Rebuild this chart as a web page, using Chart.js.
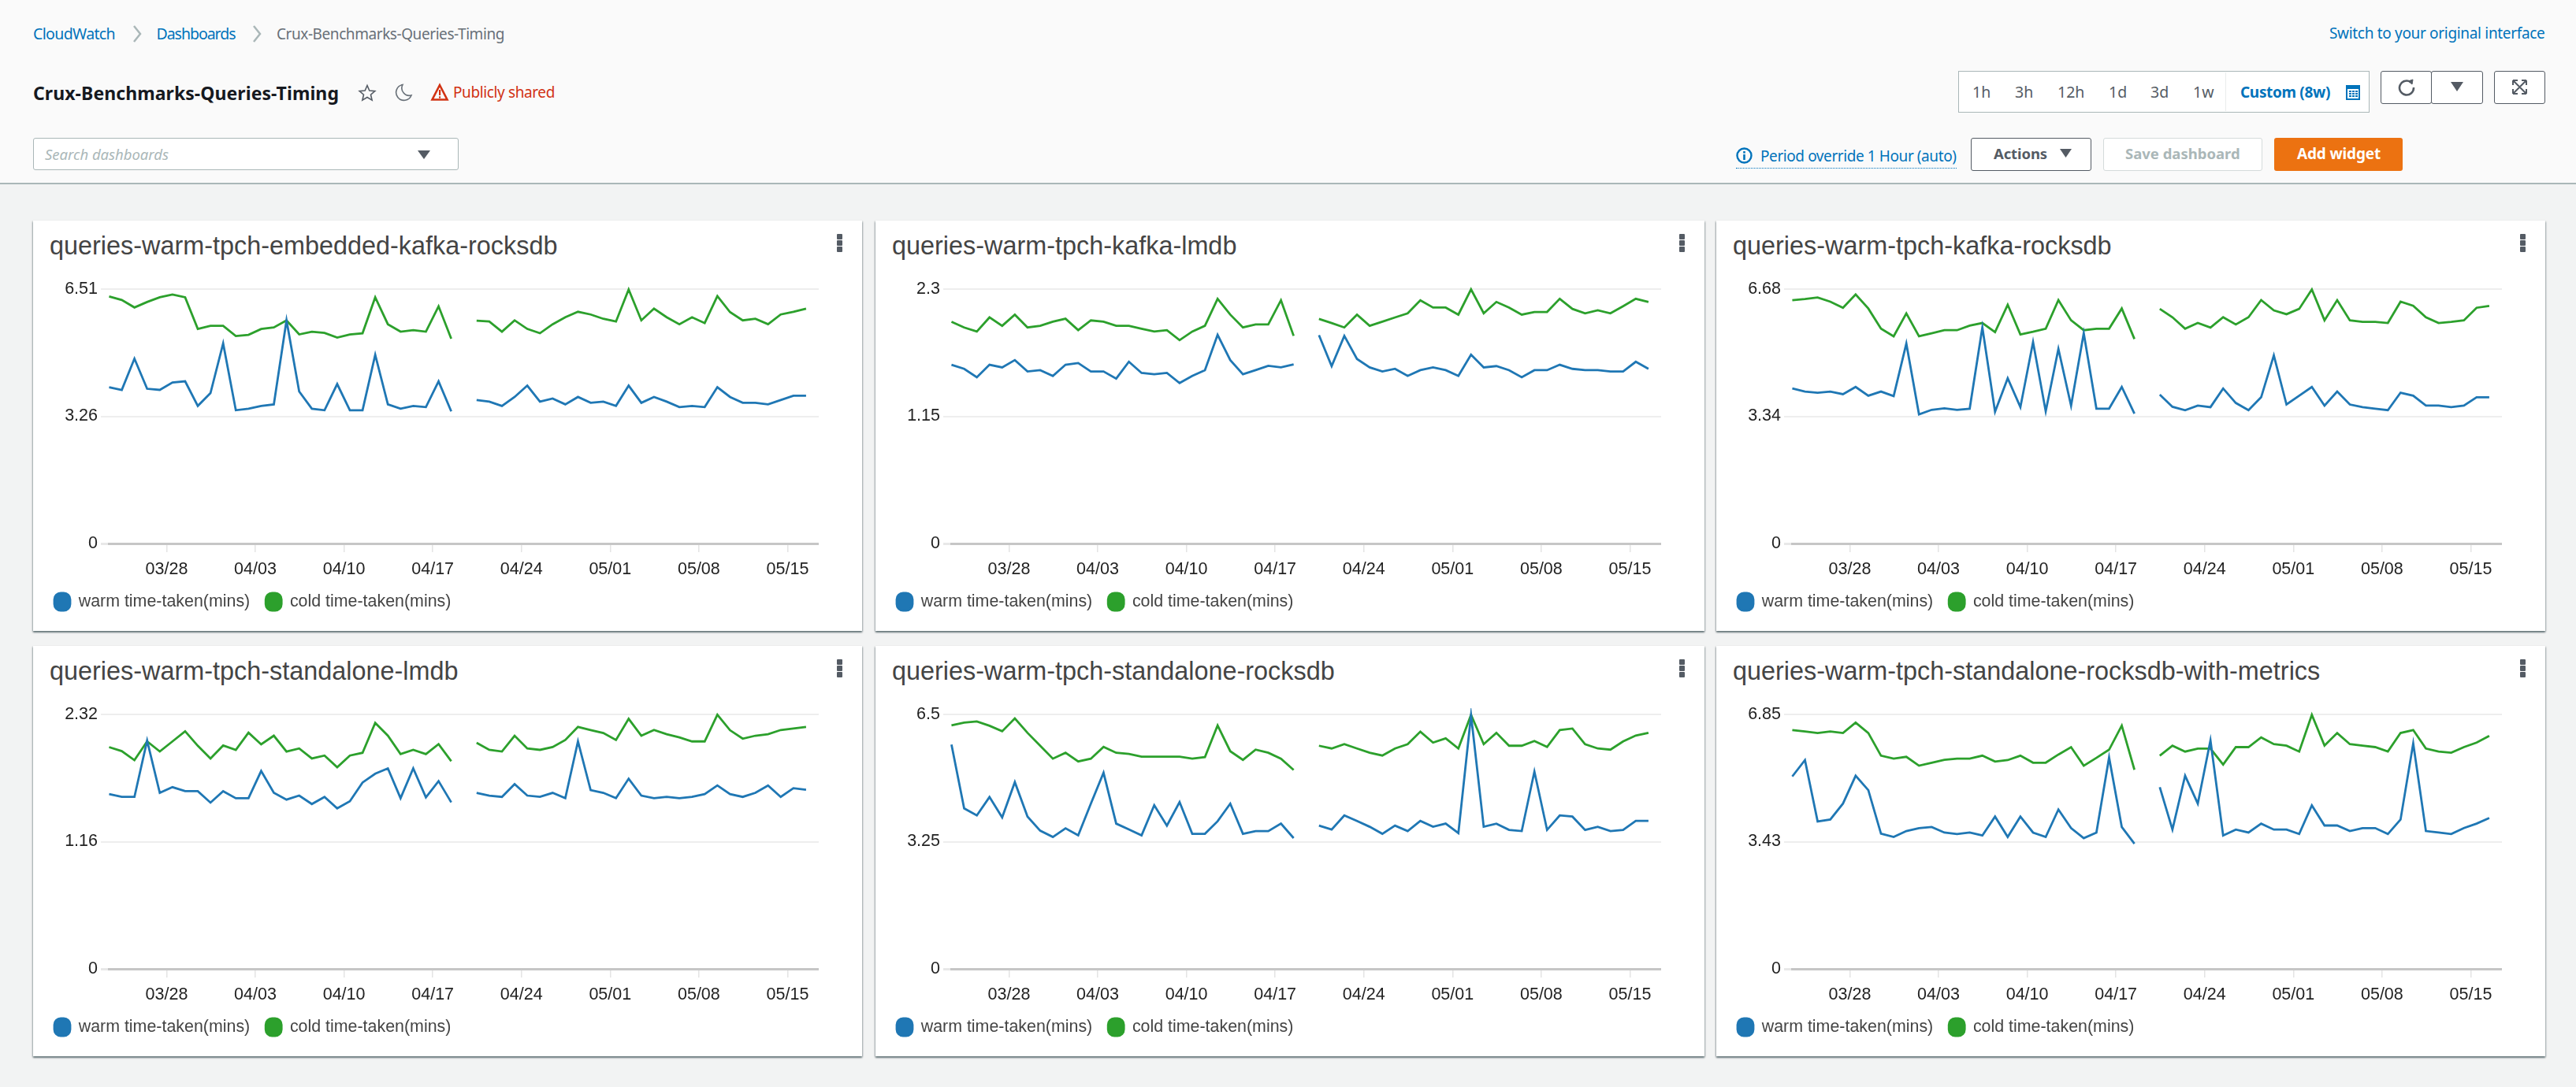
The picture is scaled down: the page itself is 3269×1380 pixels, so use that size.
<!DOCTYPE html>
<html><head><meta charset="utf-8">
<script src="https://cdn.jsdelivr.net/npm/chart.js@4"></script>
<style>
html,body{margin:0;padding:0;width:3269px;height:1380px;overflow:hidden;background:#f2f3f3;font-family:"Noto Sans",sans-serif}
#head{position:absolute;left:0;top:0;width:3269px;height:232px;background:#fafafa;border-bottom:2px solid #aab7b8}
.t{position:absolute;white-space:nowrap;line-height:1;transform:translateY(-50%)}
.box{position:absolute;box-sizing:border-box;background:#fff}
svg{position:absolute;overflow:visible}
.card{position:absolute;width:1052px;height:521px;background:#fff;box-shadow:0 2px 2px rgba(0,28,36,.45),1px 1px 2px rgba(0,28,36,.2),-1px 1px 2px rgba(0,28,36,.2)}
.card canvas{position:absolute;left:0;top:0}
.wt{position:absolute;left:21px;top:32px;transform:translateY(-50%);font:32.4px "Liberation Sans",Arial,sans-serif;color:#444;white-space:nowrap;line-height:1}
.dot{position:absolute;left:1020px;width:7px;height:7px;background:#545b64;border-radius:1px}
</style></head><body>
<div id="head"></div>
<div id="ui"></div>
<div id="cards"></div>
<script>
const seriesNames = ["warm time-taken(mins)", "cold time-taken(mins)"];
const xTickLabels = ["03/28","04/03","04/10","04/17","04/24","05/01","05/08","05/15"];
const xTickDays = [4.54,11.54,18.54,25.54,32.54,39.54,46.54,53.54];
const panelTitles = ["queries-warm-tpch-embedded-kafka-rocksdb","queries-warm-tpch-kafka-lmdb","queries-warm-tpch-kafka-rocksdb","queries-warm-tpch-standalone-lmdb","queries-warm-tpch-standalone-rocksdb","queries-warm-tpch-standalone-rocksdb-with-metrics"];
const yTickValues = [[0,3.255,6.51],[0,1.15,2.3],[0,3.34,6.68],[0,1.16,2.32],[0,3.25,6.5],[0,3.425,6.85]];
const yTickLabels = [["0","3.26","6.51"],["0","1.15","2.3"],["0","3.34","6.68"],["0","1.16","2.32"],["0","3.25","6.5"],["0","3.43","6.85"]];

const warmEmbeddedKafkaRocksdb = [4.00,3.93,4.73,3.96,3.93,4.12,4.15,3.52,3.85,5.12,3.41,3.45,3.52,3.56,5.71,3.89,3.45,3.41,4.08,3.41,3.41,4.83,3.56,3.45,3.52,3.49,4.15,3.38,null,3.67,3.63,3.52,3.75,4.04,3.63,3.71,3.56,3.75,3.60,3.63,3.52,4.04,3.60,3.75,3.63,3.49,3.52,3.49,4.00,3.75,3.60,3.60,3.56,3.67,3.78,3.78];
const coldEmbeddedKafkaRocksdb = [6.32,6.23,6.04,6.18,6.30,6.37,6.30,5.49,5.57,5.57,5.31,5.34,5.49,5.53,5.71,5.35,5.42,5.39,5.27,5.35,5.38,6.30,5.61,5.42,5.46,5.42,6.07,5.24,null,5.70,5.68,5.42,5.71,5.49,5.38,5.61,5.79,5.93,5.86,5.75,5.68,6.50,5.71,6.01,5.79,5.61,5.79,5.64,6.33,5.92,5.71,5.75,5.61,5.86,5.93,6.01];
const warmKafkaLmdb = [1.616,1.579,1.503,1.616,1.592,1.658,1.555,1.567,1.515,1.616,1.631,1.555,1.555,1.491,1.643,1.542,1.530,1.542,1.451,1.515,1.567,1.887,1.658,1.530,1.567,1.606,1.592,1.619,null,1.884,1.604,1.877,1.668,1.592,1.555,1.579,1.515,1.567,1.592,1.567,1.515,1.707,1.592,1.604,1.567,1.503,1.567,1.567,1.616,1.579,1.567,1.567,1.555,1.555,1.643,1.579];
const coldKafkaLmdb = [2.005,1.953,1.916,2.044,1.968,2.069,1.953,1.968,2.005,2.032,1.929,2.017,2.005,1.968,1.968,1.941,1.916,1.929,1.838,1.916,1.968,2.212,2.069,1.953,1.980,1.980,2.199,1.877,null,2.030,1.993,1.953,2.069,1.968,2.005,2.044,2.081,2.199,2.133,2.133,2.069,2.298,2.081,2.184,2.133,2.069,2.093,2.093,2.212,2.121,2.081,2.108,2.081,2.145,2.212,2.184];
const warmKafkaRocksdb = [4.07,3.99,3.96,3.99,3.92,4.11,3.88,3.99,3.87,5.25,3.39,3.51,3.55,3.51,3.54,5.67,3.46,4.34,3.58,5.29,3.47,5.11,3.62,5.52,3.54,3.54,4.11,3.41,null,3.91,3.59,3.50,3.62,3.58,4.07,3.69,3.50,3.84,4.94,3.65,3.88,4.11,3.62,3.99,3.65,3.58,3.54,3.50,3.96,3.88,3.62,3.62,3.58,3.62,3.84,3.84];
const coldKafkaRocksdb = [6.39,6.42,6.46,6.35,6.19,6.54,6.17,5.64,5.44,6.04,5.44,5.52,5.60,5.60,5.72,5.79,5.55,6.27,5.49,5.56,5.64,6.39,5.86,5.60,5.64,5.64,6.17,5.37,null,6.16,5.94,5.64,5.79,5.67,5.94,5.75,5.94,6.39,6.12,6.02,6.16,6.67,5.86,6.39,5.86,5.82,5.82,5.79,6.35,6.24,5.94,5.79,5.82,5.86,6.19,6.24];
const warmStandaloneLmdb = [1.593,1.568,1.568,2.082,1.605,1.657,1.620,1.620,1.516,1.620,1.556,1.556,1.804,1.605,1.543,1.580,1.503,1.568,1.464,1.528,1.699,1.779,1.828,1.556,1.828,1.563,1.712,1.518,null,1.605,1.580,1.568,1.685,1.580,1.568,1.605,1.556,2.074,1.630,1.605,1.556,1.734,1.580,1.556,1.568,1.556,1.568,1.593,1.672,1.593,1.568,1.605,1.672,1.568,1.647,1.633];
const coldStandaloneLmdb = [2.022,1.985,1.903,2.074,1.982,2.074,2.166,2.034,1.918,2.037,1.997,2.154,2.047,2.126,1.982,2.010,1.918,1.945,1.838,1.945,1.970,2.243,2.126,1.958,1.997,1.958,2.049,1.893,null,2.062,1.997,1.982,2.126,2.010,1.997,2.022,2.087,2.206,2.178,2.151,2.087,2.280,2.126,2.178,2.139,2.111,2.074,2.074,2.317,2.176,2.099,2.126,2.139,2.178,2.191,2.206];
const warmStandaloneRocksdb = [5.73,4.10,3.92,4.39,3.87,4.77,3.89,3.53,3.37,3.59,3.41,4.22,5.01,3.71,3.56,3.41,4.18,3.66,4.26,3.45,3.45,3.77,4.22,3.45,3.52,3.52,3.71,3.34,null,3.66,3.56,3.92,3.78,3.63,3.45,3.66,3.52,3.78,3.63,3.71,3.47,6.48,3.63,3.71,3.55,3.52,5.04,3.55,3.92,3.89,3.55,3.63,3.52,3.55,3.78,3.78];
const coldStandaloneRocksdb = [6.22,6.29,6.32,6.21,6.07,6.40,6.03,5.70,5.37,5.52,5.30,5.37,5.67,5.52,5.49,5.42,5.42,5.42,5.42,5.37,5.41,6.22,5.56,5.34,5.60,5.52,5.37,5.08,null,5.70,5.63,5.74,5.63,5.52,5.45,5.63,5.74,6.06,5.78,5.89,5.63,6.49,5.74,6.03,5.70,5.70,5.82,5.67,6.10,6.14,5.74,5.63,5.60,5.81,5.96,6.03];
const warmStandaloneRocksdbMetrics = [5.18,5.62,3.97,4.02,4.45,5.20,4.81,3.64,3.55,3.71,3.79,3.82,3.67,3.63,3.67,3.59,4.10,3.55,4.10,3.67,3.55,4.29,3.79,3.52,3.67,5.69,3.82,3.37,null,4.89,3.75,5.20,4.45,6.15,3.59,3.75,3.67,3.91,3.75,3.75,3.63,4.40,3.86,3.86,3.71,3.79,3.79,3.63,4.02,6.07,3.71,3.67,3.63,3.79,3.91,4.06];
const coldStandaloneRocksdbMetrics = [6.43,6.39,6.35,6.39,6.35,6.63,6.35,5.74,5.66,5.71,5.47,5.55,5.63,5.66,5.66,5.74,5.58,5.62,5.74,5.55,5.55,5.77,5.97,5.47,5.68,5.90,6.55,5.36,null,5.74,6.01,5.85,5.93,5.93,5.50,5.97,5.97,6.23,6.05,6.01,5.85,6.84,6.01,6.35,6.05,6.01,5.97,5.85,6.35,6.43,5.93,5.85,5.82,5.97,6.09,6.27];

const warmSeries = [warmEmbeddedKafkaRocksdb,warmKafkaLmdb,warmKafkaRocksdb,warmStandaloneLmdb,warmStandaloneRocksdb,warmStandaloneRocksdbMetrics];
const coldSeries = [coldEmbeddedKafkaRocksdb,coldKafkaLmdb,coldKafkaRocksdb,coldStandaloneLmdb,coldStandaloneRocksdb,coldStandaloneRocksdbMetrics];

// ---- dashboard chrome ----
const ui = document.getElementById('ui');
function text(s,x,y,size,color,extra,fitW){const d=document.createElement('div');d.className='t';d.textContent=s;d.style.cssText=`left:${x}px;top:${y}px;font-size:${size}px;color:${color};${extra||''}`;ui.appendChild(d);
  if(fitW){const w=d.getBoundingClientRect().width;d.style.letterSpacing=((fitW-w)/s.length)+'px';}
  return d;}
function box(x,y,w,h,css){const d=document.createElement('div');d.className='box';d.style.cssText=`left:${x}px;top:${y}px;width:${w}px;height:${h}px;${css}`;ui.appendChild(d);return d;}
function icon(x,y,w,h,vb,inner){const s=document.createElementNS('http://www.w3.org/2000/svg','svg');s.setAttribute('viewBox',vb);s.style.cssText=`left:${x}px;top:${y}px;width:${w}px;height:${h}px`;s.innerHTML=inner;ui.appendChild(s);}
const blue='#0073bb',grey='#545b64';
text('CloudWatch',42,43,19.5,blue,'',104);
icon(168,32,12,22,'0 0 12 22','<path d="M2 1 L10 11 L2 21" fill="none" stroke="#aab7b8" stroke-width="2.5"/>');
text('Dashboards',198.5,43,19.5,blue,'',100);
icon(320,32,12,22,'0 0 12 22','<path d="M2 1 L10 11 L2 21" fill="none" stroke="#aab7b8" stroke-width="2.5"/>');
text('Crux-Benchmarks-Queries-Timing',351,43,19,'#687078','',289);
text('Crux-Benchmarks-Queries-Timing',42,118,23,'#16191f','font-weight:700',388);
icon(455,107,22,22,'0 0 22 22','<path d="M11 1.5 L13.8 8 L20.8 8.6 L15.5 13.2 L17.1 20.2 L11 16.5 L4.9 20.2 L6.5 13.2 L1.2 8.6 L8.2 8 Z" fill="none" stroke="#545b64" stroke-width="1.6"/>');
icon(501,106,22,22,'0 0 22 22','<path d="M10 1.5 A10 10 0 1 0 21 15 A9.5 9.5 0 0 1 10 1.5 Z" fill="none" stroke="#687078" stroke-width="1.6"/>');
icon(547,106,22,22,'0 0 22 22','<path d="M11 2 L20.5 20.5 L1.5 20.5 Z" fill="none" stroke="#d13212" stroke-width="2.6"/><rect x="10" y="8" width="2.2" height="7" fill="#d13212"/><rect x="10" y="16.4" width="2.2" height="2.2" fill="#d13212"/>');
text('Publicly shared',575,117,19,'#d13212','',129);
box(42,175,540,41,'border:1.5px solid #aab7b8;border-radius:3px');
text('Search dashboards',57,196,18.5,'#aab7b8','font-style:italic',157);
icon(530,191,16,11,'0 0 16 11','<path d="M0 0 H16 L8 11 Z" fill="#545b64"/>');
text('Switch to your original interface',2956,42,19,blue,'',273.5);
box(2485,90,522,53,'border:1.5px solid #aab7b8');
[['1h',2503],['3h',2557],['12h',2611],['1d',2676],['3d',2729],['1w',2783]].forEach(a=>text(a[0],a[1],117,19.5,grey));
box(2824,92,1,49,'background:#eaeded');
text('Custom (8w)',2843,117,19,blue,'font-weight:700',114);
icon(2977,108,18,19,'0 0 18 19','<rect x="1" y="1" width="16" height="17" fill="none" stroke="#0073bb" stroke-width="2"/><rect x="1" y="1" width="16" height="4" fill="#0073bb"/><g fill="#0073bb"><rect x="4" y="7" width="3" height="2"/><rect x="8" y="7" width="3" height="2"/><rect x="12" y="7" width="3" height="2"/><rect x="4" y="10" width="3" height="2"/><rect x="8" y="10" width="3" height="2"/><rect x="12" y="10" width="3" height="2"/><rect x="4" y="13" width="3" height="2"/><rect x="8" y="13" width="3" height="2"/><rect x="12" y="13" width="3" height="2"/></g>');
const btn='border:1.5px solid #545b64;border-radius:3px;background:#fff';
box(3021,90,65,42,btn); box(3085,90,66,42,btn); box(3165,90,65,42,btn);
icon(3043,100,22,22,'0 0 22 22','<path d="M16 4 A9 9 0 1 0 20 11" fill="none" stroke="#545b64" stroke-width="2.6"/><path d="M13 3 L19 1 L18 7 Z" fill="#545b64" stroke="#545b64"/>');
icon(3110,104,16,12,'0 0 16 12','<path d="M0 0 H16 L8 12 Z" fill="#545b64"/>');
icon(3188,101,19,19,'0 0 19 19','<path d="M1 1 H7 M1 1 V7 M18 1 H12 M18 1 V7 M1 18 H7 M1 18 V12 M18 18 H12 M18 18 V12 M2 2 L17 17 M17 2 L2 17" fill="none" stroke="#545b64" stroke-width="2"/>');
icon(2203,187,21,21,'0 0 21 21','<circle cx="10.5" cy="10.5" r="9" fill="none" stroke="#0073bb" stroke-width="2.4"/><rect x="9.2" y="9" width="2.6" height="7" fill="#0073bb"/><rect x="9.2" y="5" width="2.6" height="2.6" fill="#0073bb"/>');
text('Period override 1 Hour (auto)',2234,198,19,blue,'',248.5);
box(2203,213,280,0,'border-top:1.5px dotted #0073bb;background:none');
box(2501,175,153,42,btn);
text('Actions',2530,195,18.5,grey,'font-weight:700',68);
icon(2614,189,15,11,'0 0 15 11','<path d="M0 0 H15 L7.5 11 Z" fill="#545b64"/>');
box(2669,175,202,42,'border:1.5px solid #d5dbdb;border-radius:3px;background:#fff');
text('Save dashboard',2697,195,18.5,'#aab7b8','font-weight:700',145.6);
box(2886,175,163,42,'background:#ec7211;border-radius:3px');
text('Add widget',2915,195,19,'#fff','font-weight:700',106);

// ---- widgets ----
const cardLeft=[42,1111,2178], cardTop=[280,820];
const cards=document.getElementById('cards');
const FONT='"Liberation Sans",Arial,sans-serif';
panelTitles.forEach((title,p)=>{
  const card=document.createElement('div');card.className='card';
  card.style.left=cardLeft[p%3]+'px';card.style.top=cardTop[Math.floor(p/3)]+'px';
  const h=document.createElement('div');h.className='wt';h.textContent=title;card.appendChild(h);
  [17,25,33].forEach(t=>{const d=document.createElement('div');d.className='dot';d.style.top=t+'px';card.appendChild(d);});
  const cv=document.createElement('canvas');cv.width=1052;cv.height=521;cv.style.width='1052px';cv.style.height='521px';card.appendChild(cv);
  cards.appendChild(card);
  const toPts=a=>a.map((v,i)=>({x:i,y:v}));
  new Chart(cv.getContext('2d'),{
    type:'line',
    data:{datasets:[
      {label:seriesNames[0],data:toPts(warmSeries[p]),borderColor:'#1f77b4',backgroundColor:'#1f77b4',borderWidth:2.8,pointRadius:0,tension:0,spanGaps:false,clip:8},
      {label:seriesNames[1],data:toPts(coldSeries[p]),borderColor:'#2ca02c',backgroundColor:'#2ca02c',borderWidth:2.8,pointRadius:0,tension:0,spanGaps:false,clip:8}
    ]},
    options:{
      responsive:false,animation:false,devicePixelRatio:1,
      layout:{padding:{left:7,right:55,top:87,bottom:16}},
      plugins:{
        title:{display:false},tooltip:{enabled:false},
        legend:{display:true,position:'bottom',align:'start',
          labels:{boxWidth:20,boxHeight:22,padding:20,color:'#444',useBorderRadius:true,borderRadius:8,font:{family:FONT,size:21.4}}}
      },
      scales:{
        x:{type:'linear',min:-0.09,max:56,
          border:{display:false},
          grid:{drawOnChartArea:false,drawTicks:true,tickLength:11,color:'#e4e4e4',tickColor:'#e4e4e4',lineWidth:1.5},
          ticks:{autoSkip:false,maxRotation:0,minRotation:0,padding:9,color:'#222',font:{family:FONT,size:21.5},
            callback:(v,i)=>xTickLabels[i]},
          afterBuildTicks:s=>{s.ticks=xTickDays.map(v=>({value:v}));},
          afterFit:s=>{s.height=43;s.paddingLeft=0;s.paddingRight=0;}
        },
        y:{type:'linear',min:0,max:yTickValues[p][2],
          border:{display:false},
          grid:{tickLength:9,lineWidth:c=>c.tick&&c.tick.value===0?3:2,
            color:c=>c.tick&&c.tick.value===0?'#c6c6c6':'#eeeeee',
            tickColor:c=>c.tick&&c.tick.value===0?'#e8e8e8':'#eeeeee'},
          ticks:{autoSkip:false,padding:4,color:'#222',font:{family:FONT,size:21.5},
            callback:(v,i)=>yTickLabels[p][i]},
          afterBuildTicks:s=>{s.ticks=yTickValues[p].map(v=>({value:v}));},
          afterFit:s=>{s.width=88;s.paddingTop=0;s.paddingBottom=0;}
        }
      }
    }
  });
});
</script>
</body></html>
